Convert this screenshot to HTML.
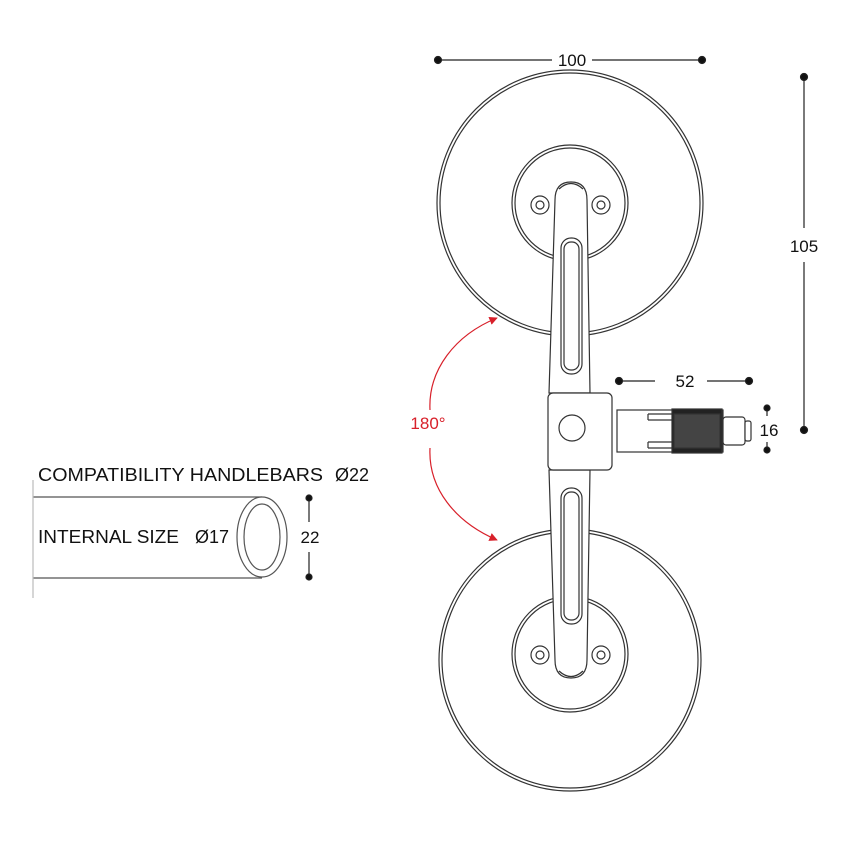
<!DOCTYPE html>
<html><head><style>body{margin:0;background:#fff}svg{display:block}text{font-family:"Liberation Sans",sans-serif}</style></head><body>
<svg width="850" height="850" viewBox="0 0 850 850" xmlns="http://www.w3.org/2000/svg">
<g fill="none" stroke="#333" stroke-width="1.2">
<circle cx="570" cy="203" r="133"/><circle cx="570" cy="203" r="130"/>
<circle cx="570" cy="203" r="58"/><circle cx="570" cy="203" r="55"/>
<circle cx="540" cy="205" r="9"/><circle cx="540" cy="205" r="4"/>
<circle cx="601" cy="205" r="9"/><circle cx="601" cy="205" r="4"/>
<circle cx="570" cy="660" r="131"/><circle cx="570" cy="660" r="128"/>
<circle cx="570" cy="654" r="58"/><circle cx="570" cy="654" r="55"/>
<circle cx="540" cy="655" r="9"/><circle cx="540" cy="655" r="4"/>
<circle cx="601" cy="655" r="9"/><circle cx="601" cy="655" r="4"/>
</g>
<g stroke="#333" stroke-width="1.2" fill="#fff">
<path d="M555,200 Q555,182 571,182 Q587,182 587,200 L590,393 L549,393 Z"/>
<path d="M549,470 L590,470 L587,660 Q587,678 571,678 Q555,678 555,660 Z"/>
<rect x="564" y="242" width="15" height="128" rx="7" fill="none"/>
<rect x="561" y="238" width="21" height="136" rx="10" fill="none"/>
<rect x="564" y="492" width="15" height="128" rx="7" fill="none"/>
<rect x="561" y="488" width="21" height="136" rx="10" fill="none"/>
<path d="M559,189 Q571,178 583,189" fill="none"/>
<path d="M559,671 Q571,682 583,671" fill="none"/>
<rect x="617" y="410" width="106" height="42"/>
<rect x="723" y="417" width="22" height="28" rx="3"/>
<rect x="745" y="421" width="6" height="20" rx="2"/>
<path d="M648,414 L672,414 M648,420 L672,420 M648,442 L672,442 M648,448 L672,448 M648,414 V420 M648,442 V448" fill="none"/>
<rect x="672" y="409" width="50" height="44" fill="#222"/>
<rect x="674" y="414" width="46" height="34" fill="#444"/>
<rect x="548" y="393" width="64" height="77" rx="5"/>
<circle cx="572" cy="428" r="13"/>
</g>
<g stroke="#222" stroke-width="1.2" fill="#111">
<line x1="438" y1="60" x2="552" y2="60"/><line x1="592" y1="60" x2="702" y2="60"/>
<circle cx="438" cy="60" r="3.5"/><circle cx="702" cy="60" r="3.5"/>
<line x1="804" y1="77" x2="804" y2="228"/><line x1="804" y1="262" x2="804" y2="430"/>
<circle cx="804" cy="77" r="3.5"/><circle cx="804" cy="430" r="3.5"/>
<line x1="619" y1="381" x2="655" y2="381"/><line x1="707" y1="381" x2="749" y2="381"/>
<circle cx="619" cy="381" r="3.5"/><circle cx="749" cy="381" r="3.5"/>
<line x1="767" y1="408" x2="767" y2="416"/><line x1="767" y1="442" x2="767" y2="450"/>
<circle cx="767" cy="408" r="3"/><circle cx="767" cy="450" r="3"/>
<line x1="309" y1="498" x2="309" y2="522"/><line x1="309" y1="552" x2="309" y2="577"/>
<circle cx="309" cy="498" r="3"/><circle cx="309" cy="577" r="3"/>
</g>
<g font-size="17" fill="#111">
<text x="572" y="66" text-anchor="middle">100</text>
<text x="804" y="252" text-anchor="middle">105</text>
<text x="685" y="387" text-anchor="middle">52</text>
<text x="769" y="436" text-anchor="middle">16</text>
<text x="310" y="543" text-anchor="middle">22</text>
</g>
<g font-size="18" fill="#111">
<text x="38" y="481" textLength="285" lengthAdjust="spacingAndGlyphs">COMPATIBILITY HANDLEBARS</text>
<text x="335" y="481">Ø22</text>
<text x="38" y="543" textLength="141" lengthAdjust="spacingAndGlyphs">INTERNAL SIZE</text>
<text x="195" y="543">Ø17</text>
</g>
<g fill="none" stroke="#555" stroke-width="1.2">
<line x1="33" y1="497" x2="262" y2="497"/><line x1="33" y1="578" x2="262" y2="578"/>
<line x1="33" y1="480" x2="33" y2="598" stroke="#bbb"/>
<ellipse cx="262" cy="537" rx="25" ry="40" fill="#fff"/>
<ellipse cx="262" cy="537" rx="18" ry="33"/>
</g>
<defs><marker id="a" viewBox="0 0 10 10" refX="9" refY="5" markerWidth="7" markerHeight="7" orient="auto"><path d="M0,0 L10,5 L0,10 Z" fill="#d8202a"/></marker></defs>
<path d="M430,410 C428,370 455,335 497,318" fill="none" stroke="#d8202a" stroke-width="1.2" marker-end="url(#a)"/>
<path d="M430,448 C428,488 455,522 497,540" fill="none" stroke="#d8202a" stroke-width="1.2" marker-end="url(#a)"/>
<text x="428" y="429" text-anchor="middle" font-size="17" fill="#d8202a">180°</text>
</svg>
</body></html>
